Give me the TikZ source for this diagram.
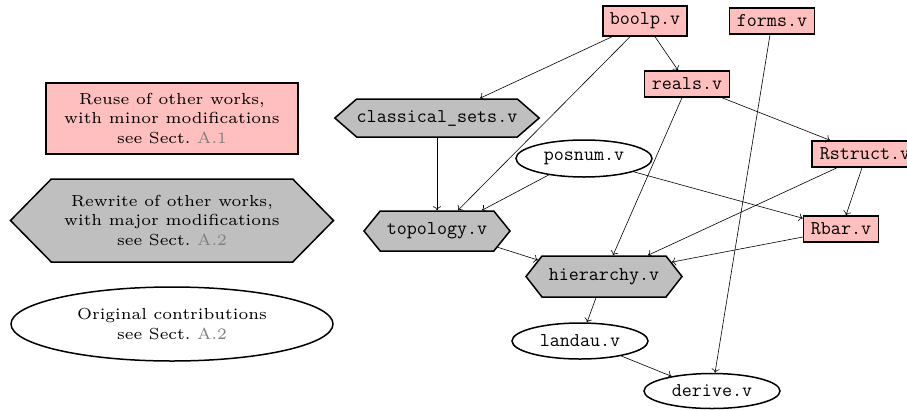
\documentclass[tikz,border=0pt]{standalone}
\usepackage{fontspec}
\newfontfamily\legendfont{lmroman6-regular.otf}
\usetikzlibrary{shapes.geometric,shapes.symbols,arrows.meta}
\definecolor{pinkfill}{RGB}{255,191,191}
\definecolor{grayfill}{RGB}{191,191,191}
\definecolor{refgray}{RGB}{128,128,128}
\begin{document}
\begin{tikzpicture}[x=1pt,y=-1pt,
  base/.style={draw, line width=1.5pt, inner sep=0pt, font=\fontsize{19.5}{22}\selectfont\ttfamily},
  reuse/.style={base, rectangle, fill=pinkfill},
  rewrite/.style={base, signal, signal to=east and west, fill=grayfill},
  orig/.style={base, ellipse, fill=white},
  edge/.style={line width=0.6pt, -{To[length=4pt,width=8pt]}},
  legend/.style={font=\legendfont\fontsize{16}{19.5}\selectfont, align=center}
]
\useasboundingbox (0,0) rectangle (907,410);
% legend
\node[reuse, legend, minimum width=252pt, minimum height=71pt] (lreuse) at (172,118.5)
  {Reuse of other works,\\with minor modifications\\see Sect.~\textcolor{refgray}{A.1}};
\node[rewrite, legend, signal pointer angle=91, minimum width=323pt, minimum height=83pt] (lrewrite) at (172,220.5)
  {Rewrite of other works,\\with major modifications\\see Sect.~\textcolor{refgray}{A.2}};
\node[orig, legend, minimum width=322pt, minimum height=74pt] (lorig) at (172,324)
  {Original contributions\\see Sect.~\textcolor{refgray}{A.2}};
% graph nodes
\node[reuse, minimum width=84pt, minimum height=30pt] (boolp) at (645,21) {boolp.v};
\node[reuse, minimum width=85pt, minimum height=26pt] (forms) at (772,21) {forms.v};
\node[reuse, minimum width=85pt, minimum height=26pt] (reals) at (687,84) {reals.v};
\node[reuse, minimum width=106pt, minimum height=26pt] (Rstruct) at (865,154) {Rstruct.v};
\node[reuse, minimum width=75pt, minimum height=26pt] (Rbar) at (841,229) {Rbar.v};
\node[rewrite, signal pointer angle=82, minimum width=204pt, minimum height=38pt] (classical) at (437,118) {classical\_sets.v};
\node[rewrite, signal pointer angle=102, minimum width=146pt, minimum height=40pt] (topology) at (437,231) {topology.v};
\node[rewrite, signal pointer angle=104, minimum width=156pt, minimum height=41pt] (hierarchy) at (604,276.5) {hierarchy.v};
\node[orig, minimum width=136pt, minimum height=37pt] (posnum) at (584,158.5) {posnum.v};
\node[orig, minimum width=136pt, minimum height=36pt] (landau) at (580,341) {landau.v};
\node[orig, minimum width=136pt, minimum height=35pt] (derive) at (712,391) {derive.v};
% edges
\draw[edge] ([xshift=-33pt]boolp.south) -- ([xshift=43pt]classical.north);
\draw[edge] ([xshift=-15pt]boolp.south) -- ([xshift=21pt]topology.north);
\draw[edge] ([xshift=10pt]boolp.south) -- ([xshift=-9pt]reals.north);
\draw[edge] (classical.south) -- (topology.north);
\draw[edge] (posnum.205) -- ([xshift=45pt]topology.north);
\draw[edge] (posnum.345) -- ([yshift=-3pt]Rbar.north west);
\draw[edge] ([xshift=-5pt]reals.south) -- ([xshift=9pt]hierarchy.north);
\draw[edge] ([xshift=35pt]reals.south) -- ([xshift=-35pt]Rstruct.north);
\draw[edge] ([xshift=-3pt]Rstruct.south) -- ([xshift=5pt]Rbar.north);
\draw[edge] ([xshift=-28pt]Rstruct.south) -- ([xshift=44pt]hierarchy.north);
\draw[edge] ([yshift=-8pt]Rbar.west) -- (hierarchy.12);
\draw[edge] (topology.345) -- (hierarchy.166);
\draw[edge] ([xshift=-8pt]hierarchy.south) -- ([xshift=7pt]landau.north);
\draw[edge] (landau.340) -- (derive.160);
\draw[edge] ([xshift=-2pt]forms.south) -- ([xshift=3pt]derive.north);
\end{tikzpicture}
\end{document}
